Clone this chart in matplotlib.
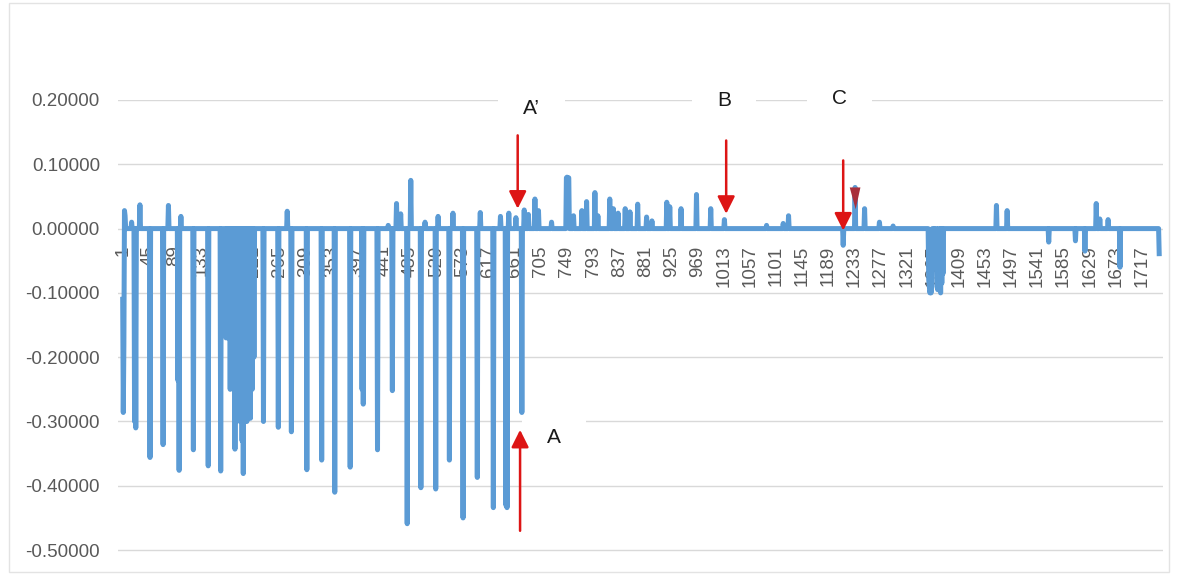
import numpy as np
import matplotlib
matplotlib.use("Agg")
import matplotlib.pyplot as plt
from matplotlib.patches import Rectangle

# ---- data -------------------------------------------------------------
n_points = 1746
spike_index = [1, 2, 3, 4, 5, 16, 21, 23, 30, 47, 69, 78, 94, 96, 99, 120, 145, 166,
               175, 178, 182, 186, 190, 193, 196, 199, 202, 204, 207, 210, 213, 216, 219, 222,
               238, 263, 278, 285, 311, 336, 358, 384, 404, 406, 430, 448, 455, 462, 469,
               480, 486, 503, 510, 528, 532, 551, 557, 574, 598, 603, 625, 637, 646, 648,
               651, 663, 673, 677, 684, 695, 701, 723, 748, 749, 750, 751, 752, 760, 774,
               782, 796, 801, 821, 827, 835, 847, 855, 868, 883, 892, 917, 922, 941, 967,
               991, 1014, 1085, 1113, 1122, 1214, 1234, 1250, 1275, 1298,
               1358, 1359, 1360, 1361, 1362, 1363, 1367, 1372, 1373, 1374, 1378, 1380, 1382,
               1472, 1490, 1560, 1605, 1621, 1640, 1646, 1660, 1680, 1746]
spike_value = [-0.110, -0.286, -0.180, 0.028, 0.020, 0.010, -0.300, -0.310, 0.037, -0.356,
               -0.336, 0.036, -0.236, -0.376, 0.019, -0.344, -0.369, -0.377,
               -0.170, -0.170, -0.250, -0.170, -0.343, -0.300, -0.280, -0.300, -0.330, -0.381,
               -0.300, -0.300, -0.290, -0.295, -0.250, -0.200,
               -0.300, -0.309, 0.027, -0.316, -0.375, -0.360, -0.410, -0.371, -0.250, -0.273,
               -0.344, 0.005, -0.252, 0.039, 0.023,
               -0.459, 0.075, -0.403, 0.010, -0.405, 0.019, -0.360, 0.024, -0.450, -0.387,
               0.025, -0.434, 0.019, -0.430, -0.434,
               0.024, 0.017, -0.286, 0.029, 0.022, 0.046, 0.028, 0.010, 0.079, 0.080, 0.079,
               0.078, 0.079, 0.020, 0.028,
               0.042, 0.056, 0.020, 0.046, 0.031, 0.024, 0.031, 0.026, 0.038, 0.018, 0.012,
               0.041, 0.034, 0.031, 0.053,
               0.031, 0.014, 0.005, 0.008, 0.020, -0.026, 0.064, 0.031, 0.010, 0.004,
               -0.080, -0.090, -0.100, -0.095, -0.100, -0.090, -0.060, -0.090, -0.095, -0.080,
               -0.100, -0.085, -0.070,
               0.036, 0.028, -0.021, -0.019, -0.035, 0.039, 0.015, 0.014, -0.060, -0.039]

y_ticks = [-0.5, -0.4, -0.3, -0.2, -0.1, 0.0, 0.1, 0.2]
x_tick_labels = list(range(1, n_points + 1, 44))

# annotation labels and arrows
ann_text = ["A\u2019", "B", "C", "A"]
ann_text_x = [690, 1013, 1208, 727]
ann_text_y = [0.187, 0.199, 0.202, -0.325]
arrow_x = [666, 1017, 1214, 670]
arrow_from = [0.145, 0.137, 0.106, -0.470]
arrow_to = [0.031, 0.023, -0.003, -0.313]

# ---- build series -----------------------------------------------------
idx = np.arange(1, n_points + 1)
series = np.zeros(n_points)
series[np.array(spike_index) - 1] = spike_value

# ---- figure -----------------------------------------------------------
plt.rcParams['font.family'] = ['Liberation Sans', 'DejaVu Sans']
fig = plt.figure(figsize=(11.8, 5.75), dpi=100)
ax = fig.add_axes([118 / 1180, 1 - 552 / 575, (1163 - 118) / 1180, (552 - 100) / 575])

fig.patches.append(Rectangle((9 / 1180, 3 / 575), 1160 / 1180, 569 / 575,
                             transform=fig.transFigure, fill=False,
                             edgecolor='#E3E3E3', lw=1.0))

ax.plot(idx, series, color='#5B9BD5', lw=3.6, solid_joinstyle='round', zorder=3)

ax.set_xlim(-6.9, 1752.4)
ax.set_ylim(-0.503, 0.2)
ax.set_yticks(y_ticks)
ax.set_yticklabels([f"{v:.5f}" for v in y_ticks])
ax.set_xticks(x_tick_labels)
ax.set_xticklabels([str(v) for v in x_tick_labels])

ax.grid(axis='y', color='#D9D9D9', lw=1.0)
ax.set_axisbelow(True)
for s in ['top', 'right', 'left']:
    ax.spines[s].set_visible(False)
ax.spines['bottom'].set_position(('data', 0))
ax.spines['bottom'].set_visible(False)
ax.tick_params(axis='both', length=0, labelsize=13.5, labelcolor='#595959')
ax.tick_params(axis='x', pad=12, labelrotation=90)
ax.tick_params(axis='y', pad=13)
for lab in ax.get_xticklabels():
    lab.set_verticalalignment('top')
    lab.set_horizontalalignment('center')

# annotations
for t, tx, ty in zip(ann_text, ann_text_x, ann_text_y):
    ax.text(tx, ty, t, fontsize=15, color='#1a1a1a', ha='center', va='center', zorder=2.5,
            bbox=dict(boxstyle='square,pad=1.2', fc='white', ec='none'))
for x0, y0, y1 in zip(arrow_x, arrow_from, arrow_to):
    ax.annotate('', xy=(x0, y1), xytext=(x0, y0), zorder=6,
                arrowprops=dict(arrowstyle='-|>,head_length=0.7,head_width=0.35',
                                mutation_scale=15, lw=1.8, color='#DD1515',
                                shrinkA=0, shrinkB=0))

# small dark red triangle marker near C peak
ax.fill([1225, 1243, 1235], [0.064, 0.064, 0.030], color='#A8303C', zorder=5, lw=0)

fig.savefig('out.png', dpi=100)
